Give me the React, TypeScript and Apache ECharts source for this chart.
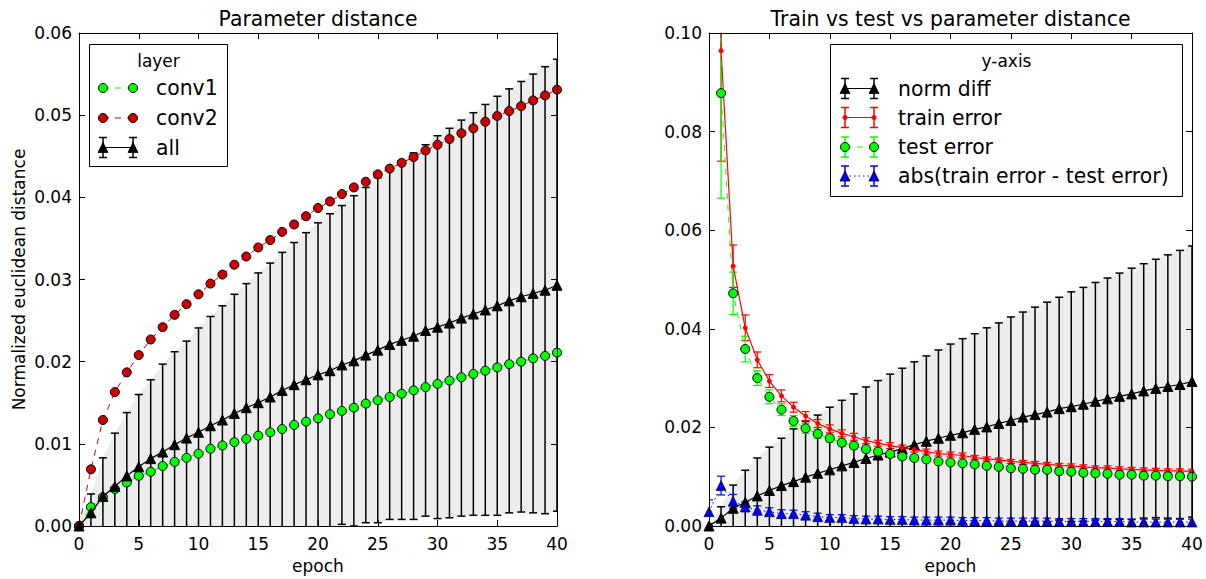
import React, { useEffect, useRef } from "react";
import * as echarts from "echarts";

const FONT = "DejaVu Sans";

const epochs = [0, 1, 2, 3, 4, 5, 6, 7, 8, 9, 10, 11, 12, 13, 14, 15, 16, 17, 18, 19, 20, 21, 22, 23, 24, 25, 26, 27, 28, 29, 30, 31, 32, 33, 34, 35, 36, 37, 38, 39, 40];
const xTicks = [0, 5, 10, 15, 20, 25, 30, 35, 40];

// Left panel: layer-wise normalized euclidean distance
const conv1 = [0, 0.0023, 0.0035, 0.0045, 0.0053, 0.0061, 0.0066, 0.0073, 0.0078, 0.0083, 0.0088, 0.0094, 0.0098, 0.0102, 0.0106, 0.0110, 0.0114, 0.0118, 0.0123, 0.0127, 0.0131, 0.0136, 0.0140, 0.0144, 0.0149, 0.0153, 0.0157, 0.0161, 0.0165, 0.0169, 0.0173, 0.0177, 0.0181, 0.0185, 0.0189, 0.0193, 0.0197, 0.0200, 0.0204, 0.0207, 0.0211];
const conv2 = [0, 0.0069, 0.0129, 0.0163, 0.0187, 0.0208, 0.0227, 0.0242, 0.0257, 0.0270, 0.0282, 0.0295, 0.0306, 0.0318, 0.0328, 0.0339, 0.0348, 0.0358, 0.0367, 0.0377, 0.0387, 0.0395, 0.0404, 0.0412, 0.0419, 0.0428, 0.0435, 0.0442, 0.0449, 0.0457, 0.0464, 0.0471, 0.0478, 0.0484, 0.0492, 0.0499, 0.0505, 0.0511, 0.0518, 0.0524, 0.0531];
const allMean = [0, 0.0016, 0.0036, 0.0048, 0.0061, 0.0072, 0.0082, 0.0090, 0.0099, 0.0107, 0.0114, 0.0122, 0.0129, 0.0137, 0.0144, 0.0150, 0.0157, 0.0165, 0.0172, 0.0178, 0.0184, 0.0189, 0.0196, 0.0201, 0.0208, 0.0214, 0.0221, 0.0226, 0.0231, 0.0238, 0.0242, 0.0247, 0.0253, 0.0258, 0.0263, 0.0268, 0.0274, 0.0279, 0.0283, 0.0287, 0.0293];
const allStd = [0, 0.0023, 0.0047, 0.0065, 0.0077, 0.0088, 0.0096, 0.0107, 0.0113, 0.0118, 0.0127, 0.0133, 0.0139, 0.0145, 0.0151, 0.0158, 0.0163, 0.0168, 0.0173, 0.0179, 0.0185, 0.0191, 0.0194, 0.0201, 0.0204, 0.0210, 0.0213, 0.0218, 0.0223, 0.0226, 0.0233, 0.0237, 0.0241, 0.0245, 0.0250, 0.0255, 0.0258, 0.0262, 0.0267, 0.0272, 0.0275];

// Right panel: train / test error
const trainErr = [0.9, 0.0964, 0.0527, 0.0402, 0.0337, 0.0294, 0.0264, 0.0241, 0.0223, 0.0208, 0.0197, 0.0188, 0.0181, 0.0173, 0.0168, 0.0163, 0.0159, 0.0155, 0.0151, 0.0147, 0.0145, 0.0143, 0.0139, 0.0136, 0.0134, 0.0131, 0.0129, 0.0127, 0.0125, 0.0123, 0.0122, 0.0120, 0.0118, 0.0118, 0.0116, 0.0115, 0.0114, 0.0113, 0.0112, 0.0112, 0.0111];
const trainStd = [0.01, 0.0224, 0.0043, 0.0026, 0.0016, 0.0013, 0.0012, 0.0010, 0.0009, 0.0008, 0.0008, 0.0007, 0.0007, 0.0006, 0.0006, 0.0006, 0.0005, 0.0005, 0.0005, 0.0005, 0.0005, 0.0005, 0.0004, 0.0004, 0.0004, 0.0004, 0.0004, 0.0004, 0.0004, 0.0004, 0.0004, 0.0004, 0.0004, 0.0004, 0.0004, 0.0004, 0.0004, 0.0004, 0.0004, 0.0004, 0.0004];
const testErr = [0.9, 0.0878, 0.0472, 0.0359, 0.0300, 0.0262, 0.0236, 0.0213, 0.0198, 0.0187, 0.0178, 0.0169, 0.0163, 0.0156, 0.0151, 0.0146, 0.0141, 0.0138, 0.0135, 0.0131, 0.0129, 0.0127, 0.0125, 0.0122, 0.0120, 0.0117, 0.0116, 0.0114, 0.0114, 0.0111, 0.0110, 0.0108, 0.0107, 0.0106, 0.0104, 0.0104, 0.0102, 0.0102, 0.0101, 0.0101, 0.0100];
const testStd = [0.01, 0.0213, 0.0043, 0.0026, 0.0015, 0.0014, 0.0012, 0.0011, 0.0010, 0.0009, 0.0008, 0.0008, 0.0007, 0.0007, 0.0006, 0.0006, 0.0006, 0.0006, 0.0005, 0.0005, 0.0005, 0.0005, 0.0005, 0.0005, 0.0005, 0.0005, 0.0005, 0.0005, 0.0005, 0.0005, 0.0005, 0.0005, 0.0005, 0.0005, 0.0005, 0.0005, 0.0005, 0.0005, 0.0005, 0.0005, 0.0005];
const absDiff = [0.0029, 0.0082, 0.0050, 0.0039, 0.0032, 0.0029, 0.0025, 0.0025, 0.0022, 0.0019, 0.0017, 0.0017, 0.0015, 0.0014, 0.0014, 0.0013, 0.0013, 0.0012, 0.0012, 0.0012, 0.0012, 0.0011, 0.0011, 0.0011, 0.0010, 0.0010, 0.0010, 0.0010, 0.0010, 0.0009, 0.0009, 0.0009, 0.0009, 0.0009, 0.0009, 0.0008, 0.0008, 0.0008, 0.0008, 0.0008, 0.0008];
const absStd = [0.0024, 0.0019, 0.0014, 0.0010, 0.0009, 0.0008, 0.0008, 0.0007, 0.0007, 0.0007, 0.0006, 0.0006, 0.0006, 0.0006, 0.0006, 0.0006, 0.0006, 0.0006, 0.0006, 0.0006, 0.0006, 0.0006, 0.0006, 0.0006, 0.0006, 0.0006, 0.0006, 0.0006, 0.0006, 0.0006, 0.0006, 0.0006, 0.0006, 0.0006, 0.0006, 0.0006, 0.0006, 0.0006, 0.0006, 0.0006, 0.0006];

const leftYTicks = [0, 0.01, 0.02, 0.03, 0.04, 0.05, 0.06];
const rightYTicks = [0, 0.02, 0.04, 0.06, 0.08, 0.1];

const GREEN = "#00ff00";
const DARKRED = "#cc0000";
const RED = "#ff0000";
const BLUE = "#0000ff";
const BAND = "#ececec";

function pairs(v: number[]) {
  return epochs.map((e, i) => [e, v[i]]);
}

function errRender(color: string, half: number, width: number) {
  return (params: any, api: any) => {
    const x = api.value(0);
    const m = api.value(1);
    const s = api.value(2);
    const p1 = api.coord([x, m + s]);
    const p2 = api.coord([x, m - s]);
    const style = { stroke: color, lineWidth: width };
    return {
      type: "group",
      children: [
        { type: "line", shape: { x1: p1[0], y1: p1[1], x2: p2[0], y2: p2[1] }, style },
        { type: "line", shape: { x1: p1[0] - half, y1: p1[1], x2: p1[0] + half, y2: p1[1] }, style },
        { type: "line", shape: { x1: p2[0] - half, y1: p2[1], x2: p2[0] + half, y2: p2[1] }, style },
      ],
    };
  };
}

function errSeries(xi: number, mean: number[], std: number[], color: string, width = 1.5, z = 3) {
  return {
    type: "custom",
    xAxisIndex: xi,
    yAxisIndex: xi,
    clip: true,
    silent: true,
    z,
    data: epochs.map((e, i) => [e, mean[i], std[i]]),
    encode: { x: 0, y: 1 },
    renderItem: errRender(color, 4, width),
  };
}

function bandSeries(xi: number, mean: number[], std: number[]) {
  return {
    type: "custom",
    xAxisIndex: xi,
    yAxisIndex: xi,
    clip: true,
    silent: true,
    z: 1,
    data: [[epochs[0], mean[0]]],
    encode: { x: 0, y: 1 },
    renderItem: (params: any, api: any) => {
      const up = epochs.map((e, i) => api.coord([e, mean[i] + std[i]]));
      const lo = epochs.map((e, i) => api.coord([e, mean[i] - std[i]])).reverse();
      return { type: "polygon", shape: { points: up.concat(lo) }, style: { fill: BAND, stroke: null } };
    },
  };
}

function markerSeries(xi: number, v: number[], o: any) {
  return {
    type: "line",
    xAxisIndex: xi,
    yAxisIndex: xi,
    clip: true,
    silent: true,
    showAllSymbol: true,
    z: o.z ?? 4,
    symbol: o.symbol,
    symbolSize: o.size,
    data: pairs(v),
    lineStyle: { color: o.color, width: o.lw ?? 1, type: o.dash ?? "solid" },
    itemStyle: { color: o.color, borderColor: o.border ?? "#000", borderWidth: o.bw ?? 1 },
  };
}

function xAxis(gridIndex: number, position: string, showLabel: boolean) {
  return {
    type: "value",
    gridIndex,
    position,
    min: 0,
    max: 40,
    interval: 5,
    z: 10,
    axisLine: { show: true, onZero: false, lineStyle: { color: "#000", width: 1 } },
    axisTick: { show: true, inside: true, length: 6, lineStyle: { color: "#000" } },
    axisLabel: {
      show: showLabel,
      color: "#000",
      fontFamily: FONT,
      fontSize: 17,
      margin: 9,
      formatter: (v: number) => (xTicks.includes(v) ? String(v) : ""),
    },
    splitLine: { show: false },
    name: showLabel ? "epoch" : "",
    nameLocation: "middle",
    nameGap: 31,
    nameTextStyle: { color: "#000", fontFamily: FONT, fontSize: 17 },
  };
}

function yAxis(gridIndex: number, position: string, showLabel: boolean, ticks: number[], name = "") {
  const max = ticks[ticks.length - 1];
  return {
    type: "value",
    gridIndex,
    position,
    min: 0,
    max,
    interval: ticks[1] - ticks[0],
    z: 10,
    axisLine: { show: true, onZero: false, lineStyle: { color: "#000", width: 1 } },
    axisTick: { show: true, inside: true, length: 6, lineStyle: { color: "#000" } },
    axisLabel: {
      show: showLabel,
      color: "#000",
      fontFamily: FONT,
      fontSize: 17,
      margin: 7,
      formatter: (v: number) => v.toFixed(2),
    },
    splitLine: { show: false },
    name,
    nameLocation: "middle",
    nameGap: 52,
    nameTextStyle: { color: "#000", fontFamily: FONT, fontSize: 17 },
  };
}

// ---------- legend drawing helpers ----------
function txt(x: number, y: number, text: string, size: number, align = "left") {
  return {
    type: "text",
    x,
    y,
    style: {
      text,
      fill: "#000",
      font: `${size}px "${FONT}"`,
      align,
      verticalAlign: "middle",
      textAlign: align,
      textVerticalAlign: "middle",
    },
  };
}
function seg(x1: number, y1: number, x2: number, y2: number, stroke: string, lw = 1, dash?: number[]) {
  const style: any = { stroke, lineWidth: lw };
  if (dash) style.lineDash = dash;
  return { type: "line", shape: { x1, y1, x2, y2 }, style };
}
function errGlyph(x: number, y: number, color: string) {
  return [seg(x, y - 10, x, y + 10, color, 1.5), seg(x - 4, y - 10, x + 4, y - 10, color, 1.5), seg(x - 4, y + 10, x + 4, y + 10, color, 1.5)];
}
function circ(x: number, y: number, r: number, fill: string, stroke: string | null) {
  return { type: "circle", shape: { cx: x, cy: y, r }, style: { fill, stroke: stroke ?? fill, lineWidth: stroke ? 1 : 0 } };
}
function tri(x: number, y: number, s: number, fill: string) {
  return {
    type: "polygon",
    shape: { points: [[x, y - s / 2], [x - s / 2, y + s / 2], [x + s / 2, y + s / 2]] },
    style: { fill, stroke: "#000", lineWidth: 0.8 },
  };
}
function legendRow(x1: number, x2: number, tx: number, y: number, label: string, o: any) {
  const els: any[] = [];
  els.push(seg(x1, y, x2, y, o.color, 1, o.dash));
  if (o.err) {
    els.push(...errGlyph(x1, y, o.color));
    els.push(...errGlyph(x2, y, o.color));
  }
  for (const x of [x1, x2]) {
    if (o.marker === "circle") els.push(circ(x, y, 4.5, o.color, "#000"));
    else if (o.marker === "dot") els.push(circ(x, y, 2.5, o.color, null));
    else els.push(tri(x, y, 10, o.color));
  }
  els.push(txt(tx, y, label, 20.4));
  return els;
}

export default function App() {
  const ref = useRef<HTMLDivElement>(null);
  useEffect(() => {
    if (!ref.current) return;
    const chart = echarts.init(ref.current, undefined, { renderer: "svg" });

    const leftLegend = [
      { type: "rect", shape: { x: 89.5, y: 44.5, width: 138, height: 122 }, style: { fill: "#fff", stroke: "#000", lineWidth: 1 } },
      txt(158.5, 61, "layer", 17, "center"),
      ...legendRow(103, 133, 156, 88, "conv1", { color: GREEN, dash: [6, 6], marker: "circle" }),
      ...legendRow(103, 133, 156, 118, "conv2", { color: DARKRED, dash: [6, 6], marker: "circle" }),
      ...legendRow(103, 133, 156, 147.5, "all", { color: "#000", marker: "tri", err: true }),
    ];
    const rightLegend = [
      { type: "rect", shape: { x: 830.5, y: 44.5, width: 352, height: 152 }, style: { fill: "#fff", stroke: "#000", lineWidth: 1 } },
      txt(1006.5, 61, "y-axis", 17, "center"),
      ...legendRow(845, 874, 898, 88.5, "norm diff", { color: "#000", marker: "tri", err: true }),
      ...legendRow(845, 874, 898, 117.5, "train error", { color: RED, marker: "dot", err: true }),
      ...legendRow(845, 874, 898, 147, "test error", { color: GREEN, marker: "circle", err: true, dash: [6, 6] }),
      ...legendRow(845, 874, 898, 176, "abs(train error - test error)", { color: BLUE, marker: "tri", err: true, dash: [1.5, 3] }),
    ];
    const graphics = [
      txt(318, 19, "Parameter distance", 20.4, "center"),
      txt(950.5, 19, "Train vs test vs parameter distance", 20.4, "center"),
      ...leftLegend,
      ...rightLegend,
    ].map((g: any) => ({ ...g, z: 100 }));

    const option: any = {
      animation: false,
      backgroundColor: "#fff",
      grid: [
        { left: 79, top: 33, width: 478, height: 498 },
        { left: 709, top: 33, width: 483, height: 498 },
      ],
      xAxis: [xAxis(0, "bottom", true), xAxis(0, "top", false), xAxis(1, "bottom", true), xAxis(1, "top", false)],
      yAxis: [
        yAxis(0, "left", true, leftYTicks, "Normalized euclidean distance"),
        yAxis(0, "right", false, leftYTicks),
        yAxis(1, "left", true, rightYTicks),
        yAxis(1, "right", false, rightYTicks),
      ],
      series: [
        // left panel
        bandSeries(0, allMean, allStd),
        errSeries(0, allMean, allStd, "#000", 1.5, 2),
        markerSeries(0, conv1, { symbol: "circle", size: 9, color: GREEN, dash: [6, 6], z: 3 }),
        markerSeries(0, conv2, { symbol: "circle", size: 9, color: DARKRED, dash: [6, 6], z: 3 }),
        markerSeries(0, allMean, { symbol: "triangle", size: 10, color: "#000", lw: 1.2, z: 4 }),
        // right panel
        bandSeries(2, allMean, allStd),
        errSeries(2, allMean, allStd, "#000", 1.5, 2),
        markerSeries(2, allMean, { symbol: "triangle", size: 10, color: "#000", lw: 1.2, z: 3 }),
        errSeries(2, trainErr, trainStd, RED, 1.2, 3),
        markerSeries(2, trainErr, { symbol: "circle", size: 5, color: RED, lw: 1.2, border: RED, bw: 0, z: 3 }),
        errSeries(2, testErr, testStd, GREEN, 1.2, 3),
        markerSeries(2, testErr, { symbol: "circle", size: 9, color: GREEN, dash: [6, 6], z: 3 }),
        errSeries(2, absDiff, absStd, BLUE, 1.2, 3),
        markerSeries(2, absDiff, { symbol: "triangle", size: 10, color: BLUE, dash: [1.5, 3], bw: 0.6, z: 3 }),
      ],
      graphic: graphics,
    };
    chart.setOption(option);
    return () => chart.dispose();
  }, []);
  return <div ref={ref} style={{ position: "absolute", left: 0, top: 0, width: 1206, height: 579 }} />;
}
